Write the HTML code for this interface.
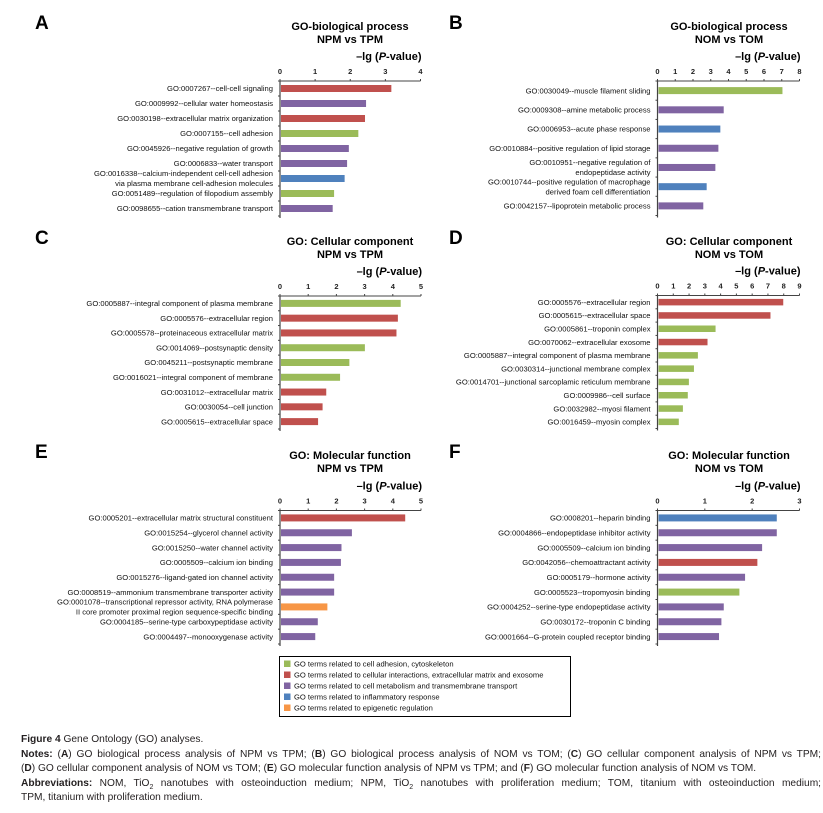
<!DOCTYPE html>
<html><head><meta charset="utf-8"><style>
html,body{margin:0;padding:0;background:#fff;}
body{width:823px;height:813px;overflow:hidden;position:relative;font-family:"Liberation Sans",Arial,sans-serif;}
#cap{position:absolute;left:21px;top:733px;width:800px;font-family:"Liberation Sans",sans-serif;font-size:10.2px;line-height:14.5px;color:#231f20;}
#cap b{font-weight:bold;}
#cap .j{white-space:nowrap;text-align:justify;text-align-last:justify;}
#cap .l{white-space:nowrap;}
</style></head><body>
<svg id="fig" width="823" height="813" style="position:absolute;left:0;top:0" font-family="Liberation Sans, Arial, sans-serif"></svg>
<div id="cap">
<div class="l"><b>Figure 4</b> Gene Ontology (GO) analyses.</div>
<div><div class="j"><b>Notes:</b> (<b>A</b>) GO biological process analysis of NPM vs TPM; (<b>B</b>) GO biological process analysis of NOM vs TOM; (<b>C</b>) GO cellular component analysis of NPM vs TPM;</div><div class="l">(<b>D</b>) GO cellular component analysis of NOM vs TOM; (<b>E</b>) GO molecular function analysis of NPM vs TPM; and (<b>F</b>) GO molecular function analysis of NOM vs TOM.</div></div>
<div><div class="j"><b>Abbreviations:</b> NOM, TiO<sub style="font-size:7px;line-height:0">2</sub> nanotubes with osteoinduction medium; NPM, TiO<sub style="font-size:7px;line-height:0">2</sub> nanotubes with proliferation medium; TOM, titanium with osteoinduction medium;</div><div class="l">TPM, titanium with proliferation medium.</div></div>
</div>
<script>
const COL={g:"#9bbb59",r:"#c0504d",p:"#8064a2",b:"#4f81bd",o:"#f79646"};
const catsA=["GO:0007267--cell-cell signaling","GO:0009992--cellular water homeostasis","GO:0030198--extracellular matrix organization","GO:0007155--cell adhesion","GO:0045926--negative regulation of growth","GO:0006833--water transport","GO:0016338--calcium-independent cell-cell adhesion\nvia plasma membrane cell-adhesion molecules","GO:0051489--regulation of filopodium assembly","GO:0098655--cation transmembrane transport"];
const valsA=[3.17,2.45,2.42,2.23,1.96,1.91,1.84,1.54,1.50];
const grpA=["r","p","r","g","p","p","b","g","p"];
const ticksA=[0,1,2,3,4];
const catsB=["GO:0030049--muscle filament sliding","GO:0009308--amine metabolic process","GO:0006953--acute phase response","GO:0010884--positive regulation of lipid storage","GO:0010951--negative regulation of\nendopeptidase activity","GO:0010744--positive regulation of macrophage\nderived foam cell differentiation","GO:0042157--lipoprotein metabolic process"];
const valsB=[7.04,3.73,3.54,3.43,3.26,2.77,2.58];
const grpB=["g","p","b","p","p","b","p"];
const ticksB=[0,1,2,3,4,5,6,7,8];
const catsC=["GO:0005887--integral component of plasma membrane","GO:0005576--extracellular  region","GO:0005578--proteinaceous extracellular matrix","GO:0014069--postsynaptic density","GO:0045211--postsynaptic membrane","GO:0016021--integral component of membrane","GO:0031012--extracellular matrix","GO:0030054--cell junction","GO:0005615--extracellular space"];
const valsC=[4.28,4.18,4.13,3.01,2.46,2.13,1.64,1.51,1.35];
const grpC=["g","r","r","g","g","g","r","r","r"];
const ticksC=[0,1,2,3,4,5];
const catsD=["GO:0005576--extracellular region","GO:0005615--extracellular space","GO:0005861--troponin complex","GO:0070062--extracellular exosome","GO:0005887--integral component of plasma membrane","GO:0030314--junctional membrane complex","GO:0014701--junctional sarcoplamic reticulum membrane","GO:0009986--cell surface","GO:0032982--myosi  filament","GO:0016459--myosin complex"];
const valsD=[7.97,7.16,3.68,3.17,2.56,2.31,1.99,1.92,1.61,1.35];
const grpD=["r","r","g","r","g","g","g","g","g","g"];
const ticksD=[0,1,2,3,4,5,6,7,8,9];
const catsE=["GO:0005201--extracellular matrix structural constituent","GO:0015254--glycerol channel activity","GO:0015250--water channel activity","GO:0005509--calcium ion binding","GO:0015276--ligand-gated ion channel activity","GO:0008519--ammonium transmembrane transporter activity","GO:0001078--transcriptional repressor activity, RNA polymerase\nII core promoter proximal region sequence-specific binding","GO:0004185--serine-type carboxypeptidase activity","GO:0004497--monooxygenase activity"];
const valsE=[4.44,2.55,2.18,2.16,1.92,1.92,1.68,1.34,1.25];
const grpE=["r","p","p","p","p","p","o","p","p"];
const ticksE=[0,1,2,3,4,5];
const catsF=["GO:0008201--heparin binding","GO:0004866--endopeptidase inhibitor activity","GO:0005509--calcium ion binding","GO:0042056--chemoattractant activity","GO:0005179--hormone activity","GO:0005523--tropomyosin binding","GO:0004252--serine-type endopeptidase activity","GO:0030172--troponin C binding","GO:0001664--G-protein coupled receptor binding"];
const valsF=[2.52,2.52,2.21,2.11,1.85,1.73,1.40,1.35,1.30];
const grpF=["b","p","p","r","p","g","p","p","p"];
const ticksF=[0,1,2,3];
const legendLabels=["GO terms related to cell adhesion, cytoskeleton","GO terms related to cellular interactions, extracellular matrix and exosome","GO terms related to cell metabolism and transmembrane transport","GO terms related to inflammatory response","GO terms related to epigenetic regulation"];
const legendKeys=["g","r","p","b","o"];

const svg=document.getElementById('fig');
const NS="http://www.w3.org/2000/svg";
function mk(tag,attrs,parent){const e=document.createElementNS(NS,tag);for(const k in attrs)e.setAttribute(k,attrs[k]);(parent||svg).appendChild(e);return e;}

function panel(id,letter,t1,t2,cats,vals,grp,ticks,o){
  const g=mk('g',{});
  
  
  const maxT=ticks[ticks.length-1];
  const x=v=>o.x0+(o.x1-o.x0)*v/maxT;
  const n=cats.length, step=(o.yb-o.ya)/n;
  const y=i=>o.ya+step*(i+0.5);
  const L=mk('text',{x:o.lx,y:o.ty-1,'font-size':19,'font-weight':'bold',fill:'#000'},g);L.textContent=letter;
  
  
  const T1=mk('text',{x:o.tx,y:o.ty,'font-size':11,'font-weight':'bold','text-anchor':'middle'},g);T1.textContent=t1;
  
  
  const T2=mk('text',{x:o.tx,y:o.ty+13,'font-size':11,'font-weight':'bold','text-anchor':'middle'},g);T2.textContent=t2;
  
  
  const AT=mk('text',{x:o.x1+1,y:o.ya-21,'font-size':11,'font-weight':'bold','text-anchor':'end'},g);
  AT.innerHTML='\u2013lg (<tspan font-style="italic">P</tspan>-value)';
  
  
  const ax=mk('line',{x1:o.x0,y1:o.ya,x2:o.x1,y2:o.ya,stroke:'#444','stroke-width':1},g);
  
  
  const ay=mk('line',{x1:o.x0,y1:o.ya,x2:o.x0,y2:o.yb+2,stroke:'#444','stroke-width':1.2},g);
  
  
  ticks.forEach(t=>{
    const tl=mk('text',{x:x(t),y:o.ya-7,'font-size':7.5,'font-weight':'bold','text-anchor':'middle',fill:'#222'},g);tl.textContent=t;
    
    
    mk('line',{x1:x(t),y1:o.ya,x2:x(t),y2:o.ya-2,stroke:'#444'},g);
  });
  for(let i=0;i<=n;i++){mk('line',{x1:o.x0-2,y1:o.ya+step*i,x2:o.x0,y2:o.ya+step*i,stroke:'#444'},g);}
  cats.forEach((c,i)=>{
    const r=mk('rect',{x:o.x0+1,y:y(i)-o.bh/2,width:x(vals[i])-o.x0-1,height:o.bh,fill:COL[grp[i]]},g);
    
    
    const lines=c.split('\n');
    const tx=mk('text',{x:o.x0-7,'font-size':7.6,'text-anchor':'end',fill:'#111'},g);
    
    
    lines.forEach((ln,k)=>{const ts=mk('tspan',{x:o.x0-7,y:y(i)+2.7+(k-(lines.length-1)/2)*10},tx);ts.textContent=ln;});
  });
}
panel('a','A','GO-biological process','NPM vs TPM',catsA,valsA,grpA,ticksA,{x0:280,x1:420.5,ya:81,yb:216,bh:7,lx:35,tx:350,ty:30});
panel('b','B','GO-biological process','NOM vs TOM',catsB,valsB,grpB,ticksB,{x0:657.5,x1:799.5,ya:81,yb:215.5,bh:7,lx:449,tx:729,ty:30});
panel('c','C','GO: Cellular component','NPM vs TPM',catsC,valsC,grpC,ticksC,{x0:280,x1:421,ya:296,yb:429,bh:7,lx:35,tx:350,ty:245});
panel('d','D','GO: Cellular component','NOM vs TOM',catsD,valsD,grpD,ticksD,{x0:657.5,x1:799.5,ya:295.5,yb:428.5,bh:6.5,lx:449,tx:729,ty:245});
panel('e','E','GO: Molecular function','NPM vs TPM',catsE,valsE,grpE,ticksE,{x0:280,x1:421,ya:510.5,yb:644,bh:7,lx:35,tx:350,ty:459});
panel('f','F','GO: Molecular function','NOM vs TOM',catsF,valsF,grpF,ticksF,{x0:657.5,x1:799.5,ya:510.5,yb:644,bh:7,lx:449,tx:729,ty:459});

const lg=mk('g',{});


mk('rect',{x:279.5,y:656.5,width:291,height:60,fill:'#fff',stroke:'#000','stroke-width':1},lg);
legendLabels.forEach((t,i)=>{
  const yy=664+i*11;
  const s=mk('rect',{x:284,y:yy-3.5,width:6.5,height:6.5,fill:COL[legendKeys[i]]},lg);
  
  
  const tt=mk('text',{x:294,y:yy+2.6,'font-size':7.6,fill:'#111'},lg);tt.textContent=t;
  
  
});
</script>
</body></html>
